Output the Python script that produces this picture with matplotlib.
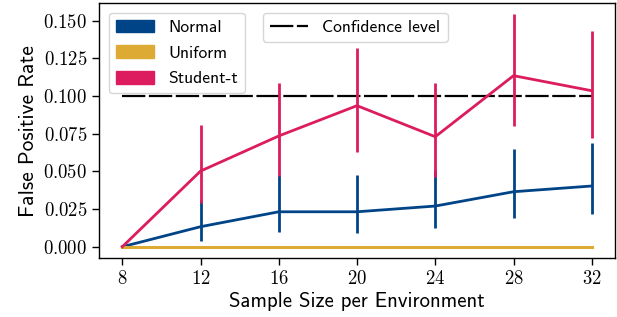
import matplotlib
matplotlib.use("Agg")
import matplotlib.pyplot as plt
import numpy as np
from matplotlib.patches import Patch
from matplotlib.lines import Line2D
from matplotlib.ticker import FuncFormatter

plt.rcParams['mathtext.fontset'] = 'cm'
plt.rcParams['font.family'] = ['cmss10', 'DejaVu Sans']
plt.rcParams['axes.unicode_minus'] = False

sizes = [8, 12, 16, 20, 24, 28, 32]
normal = [0.0, 0.0133, 0.0232, 0.0232, 0.0270, 0.0365, 0.0403]
normal_lo = [0.0, 0.0040, 0.0096, 0.0093, 0.0122, 0.0188, 0.0215]
normal_hi = [0.0, 0.0310, 0.0476, 0.0476, 0.0510, 0.0646, 0.0686]
uniform = [0.0, 0.0, 0.0, 0.0, 0.0, 0.0, 0.0]
student = [0.0, 0.0502, 0.0735, 0.0936, 0.0730, 0.1135, 0.1035]
student_lo = [0.0, 0.0290, 0.0469, 0.0630, 0.0465, 0.0801, 0.0719]
student_hi = [0.0, 0.0810, 0.1089, 0.1320, 0.1089, 0.1544, 0.1432]
confidence = 0.1
yticks = [0.0, 0.025, 0.05, 0.075, 0.1, 0.125, 0.15]

c_normal = '#004488'
c_uniform = '#DDAA33'
c_student = '#DC1C5E'

fig = plt.figure(figsize=(6.17, 3.17), dpi=100)
ax = fig.add_axes([0.1605, 0.185, 0.836, 0.8055])

dash = (0, (10.5, 1.6))
ax.plot([sizes[0], sizes[-1]], [confidence, confidence], color='black', lw=1.6,
        linestyle=dash, zorder=1)

def err(m, lo, hi):
    m = np.array(m); lo = np.array(lo); hi = np.array(hi)
    return np.vstack([m - lo, hi - m])

lw = 2.0
ax.errorbar(sizes, normal, yerr=err(normal, normal_lo, normal_hi), color=c_normal,
            lw=lw, elinewidth=lw, capsize=0, zorder=2)
ax.errorbar(sizes, uniform, yerr=None, color=c_uniform, lw=2.2, zorder=2)
ax.errorbar(sizes, student, yerr=err(student, student_lo, student_hi), color=c_student,
            lw=lw, elinewidth=lw, capsize=0, zorder=3)

ax.set_xlim(6.81, 33.18)
ax.set_ylim(-0.0077, 0.1617)
ax.set_xticks(sizes)
ax.set_yticks(yticks)
ax.xaxis.set_major_formatter(FuncFormatter(lambda v, p: f"${int(v)}$"))
ax.yaxis.set_major_formatter(FuncFormatter(lambda v, p: f"${v:.3f}$"))
ax.tick_params(labelsize=13.5, length=5, width=1)
for s in ax.spines.values():
    s.set_linewidth(1.0)

ax.set_xlabel('Sample Size per Environment', fontsize=15, labelpad=3)
ax.set_ylabel('False Positive Rate', fontsize=15.5, labelpad=4)

handles = [Patch(color=c_normal, label='Normal'),
           Patch(color=c_uniform, label='Uniform'),
           Patch(color=c_student, label='Student-t')]
leg1 = ax.legend(handles=handles, loc='upper left', fontsize=12.6,
                 handlelength=2.2, handleheight=0.75, labelspacing=0.58,
                 borderaxespad=0.55)
ax.add_artist(leg1)
h2 = [Line2D([0], [0], color='black', lw=1.6, linestyle=dash, label='Confidence level')]
ax.legend(handles=h2, loc='upper left', bbox_to_anchor=(0.299, 1.0), fontsize=12.6,
          handlelength=2.2, borderaxespad=0.55)

fig.savefig('out.png', dpi=100)
